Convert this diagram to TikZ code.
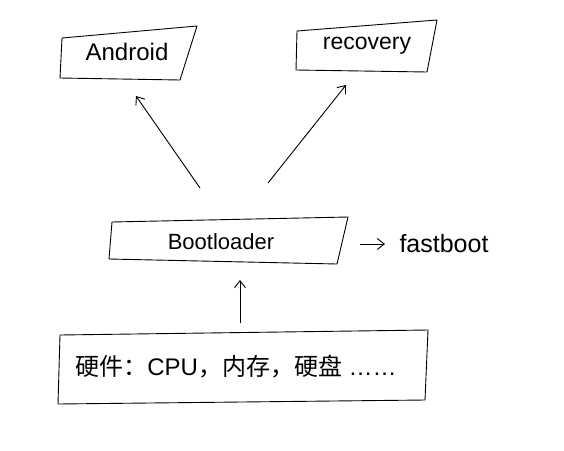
\documentclass[tikz,border=0pt]{standalone}
\usepackage{fontspec}
\setmainfont{Liberation Sans}
\newfontfamily\cjk{Noto Sans CJK SC}
\usetikzlibrary{arrows.meta}
\tikzset{
  box/.style={draw=black, line width=0.9pt, line join=round},
  arr/.style={draw=black, line width=0.9pt, -{Straight Barb[length=7pt,width=11pt]}},
  lbl/.style={inner sep=0pt}
}
\begin{document}
\begin{tikzpicture}[x=1pt,y=-1pt]
\useasboundingbox (0,0) rectangle (564,450);
\fill[white] (0,0) rectangle (564,450);
% Android box
\draw[box] (62,38) -- (197,26) -- (180,80) -- (60,78) -- cycle;
\node[lbl, font=\fontsize{24}{28}\selectfont] (android) at (127,52) {Android};
% recovery box
\draw[box] (297,31) -- (437,20) -- (427,72) -- (296,70) -- cycle;
\node[lbl, font=\fontsize{23}{27}\selectfont] (recovery) at (367,46) {recovery};
% Bootloader box
\draw[box] (112,222) -- (348,217) -- (337,264) -- (109,259) -- cycle;
\node[lbl, font=\fontsize{22}{26}\selectfont] (boot) at (221,242) {Bootloader};
\node[lbl, font=\fontsize{25}{29}\selectfont] (fast) at (444,244) {fastboot};
% hardware box
\draw[box] (60,335) -- (428,330) -- (425,400) -- (58,404) -- cycle;
\node[lbl, font=\fontsize{24}{28}\selectfont] (hw) at (236,367) {{\cjk 硬件：}CPU{\cjk ，内存，硬盘} ……};
% connectors
\coordinate (b1) at (200,188);
\coordinate (b2) at (268,183);
\coordinate (bt) at (240,280);
\coordinate (hb) at (240,323);
\coordinate (fa) at (360,244);
\draw[arr] (b1) -- (136,96);
\draw[arr] (b2) -- (346,85);
\draw[arr] (hb) -- (bt);
\draw[arr] (fa) -- (385,244);
\end{tikzpicture}
\end{document}
